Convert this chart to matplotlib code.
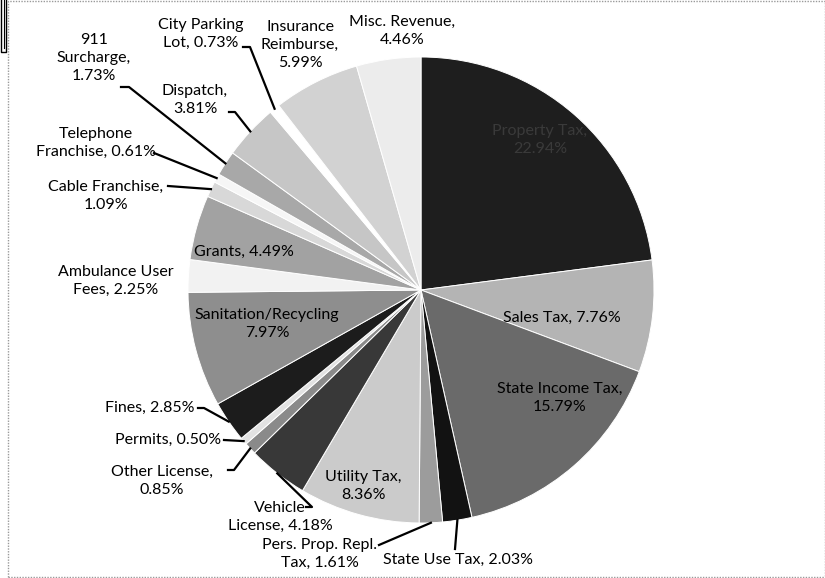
import matplotlib
matplotlib.use('Agg')
import matplotlib.pyplot as plt
import numpy as np

plt.rcParams['font.family'] = ['Lato', 'DejaVu Sans']

# revenue shares (%), clockwise from 12 o'clock
names = ['Property Tax', 'Sales Tax', 'State Income Tax', 'State Use Tax',
         'Pers. Prop. Repl. Tax', 'Utility Tax', 'Vehicle License', 'Other License',
         'Permits', 'Fines', 'Sanitation/Recycling', 'Ambulance User Fees', 'Grants',
         'Cable Franchise', 'Telephone Franchise', '911 Surcharge', 'Dispatch',
         'City Parking Lot', 'Insurance Reimburse', 'Misc. Revenue']
shares = [22.94, 7.76, 15.79, 2.03, 1.61, 8.36, 4.18, 0.85, 0.50, 2.85, 7.97,
          2.25, 4.49, 1.09, 0.61, 1.73, 3.81, 0.73, 5.99, 4.46]
labels = ['Property Tax,\n22.94%', 'Sales Tax, 7.76%', 'State Income Tax,\n15.79%',
          'State Use Tax, 2.03%', 'Pers. Prop. Repl.\nTax, 1.61%', 'Utility Tax,\n8.36%',
          'Vehicle\nLicense, 4.18%', 'Other License,\n0.85%', 'Permits, 0.50%',
          'Fines, 2.85%', 'Sanitation/Recycling\n7.97%', 'Ambulance User\nFees, 2.25%',
          'Grants, 4.49%', 'Cable Franchise,\n1.09%', 'Telephone\nFranchise, 0.61%',
          '911\nSurcharge,\n1.73%', 'Dispatch,\n3.81%', 'City Parking\nLot, 0.73%',
          'Insurance\nReimburse,\n5.99%', 'Misc. Revenue,\n4.46%']
grays = ['#1e1e1e', '#b4b4b4', '#6a6a6a', '#121212', '#9c9c9c', '#cbcbcb',
         '#383838', '#8a8a8a', '#e2e2e2', '#1c1c1c', '#8e8e8e', '#f2f2f2',
         '#a2a2a2', '#d8d8d8', '#f6f6f6', '#a8a8a8', '#c6c6c6', '#ffffff',
         '#d2d2d2', '#ececec']

W, H = 825, 578
cx, cy, R = 421, 290, 233          # pie centre / radius in pixels (y from top)

# label centres (pixels from top-left)
label_xy = [(540, 140), (562, 318), (560, 398), (458, 560), (320, 554), (363, 486),
            (280, 517), (162, 481), (168, 440), (150, 408), (267, 324), (116, 281),
            (244, 252), (106, 196), (96, 143), (94, 58), (195, 100), (201, 34),
            (300, 45), (402, 31)]
# where the leader line leaves the label (None = no leader)
leader_from = {3: [(455, 549)], 4: [(379, 545)], 6: [(306, 507), (312, 507)],
               7: [(228, 470), (234, 470)], 8: [(224, 440)], 9: [(198, 408), (204, 408)],
               13: [(168, 186)], 14: [(154, 153)], 15: [(121, 87), (129, 87)],
               16: [(229, 112), (235, 112)], 17: [(243, 47), (250, 47)]}

fig = plt.figure(figsize=(W / 100, H / 100), dpi=100)
ax = fig.add_axes([0, 0, 1, 1])

ax.pie(shares, colors=grays, startangle=90, counterclock=False,
       center=(cx, H - cy), radius=R,
       wedgeprops=dict(edgecolor='white', linewidth=0.7))
ax.set_xlim(0, W)
ax.set_ylim(0, H)
ax.set_aspect('equal')
ax.axis('off')

total = sum(shares)
cum = np.cumsum([0] + shares[:-1])
for i, lab in enumerate(labels):
    x, y = label_xy[i]
    col = '#3a3a3a' if i == 0 else 'black'
    ax.text(x, H - y, lab, ha='center', va='center', fontsize=11.5,
            linespacing=1.4, color=col)
    if i in leader_from:
        mid = np.deg2rad(90 - 360 * (cum[i] + shares[i] / 2) / total)
        ex, ey = cx + R * np.cos(mid), cy - R * np.sin(mid)
        pts = leader_from[i] + [(ex, ey)]
        ax.plot([p[0] for p in pts], [H - p[1] for p in pts], color='black', lw=1.6)

# scanned page frame
ax.plot([8, 8, W, W], [H - 577, H - 1, H - 1, H - 577], color='#9a9a9a', lw=1,
        ls=(0, (1, 1)))
ax.plot([8, W], [H - 577, H - 577], color='#9a9a9a', lw=1, ls=(0, (1, 1)))
ax.plot([1, 1, 6, 6], [H, H - 52, H - 52, H], color='black', lw=1)
ax.plot([3.5, 3.5], [H, H - 48], color='black', lw=0.8)

fig.savefig('out.png', dpi=100)
